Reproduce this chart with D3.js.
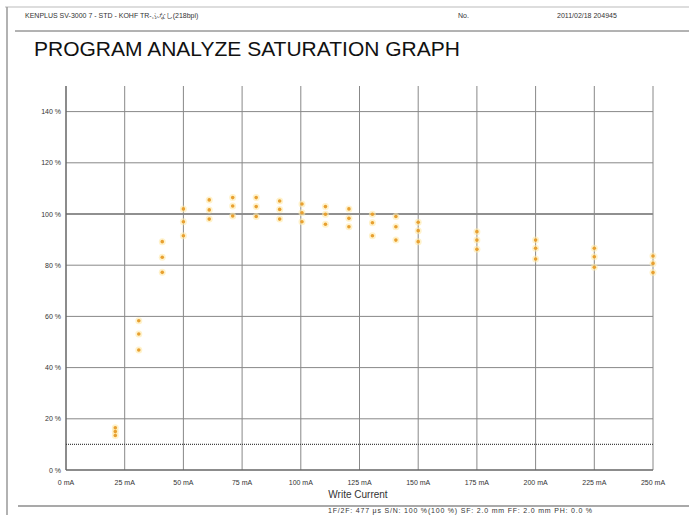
<!DOCTYPE html>
<html>
<head>
<meta charset="utf-8">
<script src="https://cdn.jsdelivr.net/npm/d3@7"></script>
<style>
  body { margin: 0; background: #fff; }
  text { font-family: "Liberation Sans", Arial, sans-serif; }
</style>
</head>
<body>
<div id="chart"></div>
<script>
const currents = [21, 31, 41, 50, 61, 71, 81, 91, 100.5, 110.5, 120.5, 130.5, 140.5, 150, 175, 200, 225, 250];
// three readings per group, percent
const highVals = [16.5, 58.3, 89.2, 102, 105.5, 106.4, 106.4, 105.1, 103.9, 102.9, 102, 99.9, 99, 96.8, 93.1, 89.8, 86.6, 83.6];
const midVals  = [15, 53.1, 83.1, 97, 101.6, 103.1, 102.9, 101.8, 100.5, 99.9, 98.3, 96.6, 95, 93.5, 89.8, 86.6, 83.3, 80.7];
const lowVals  = [13.5, 46.9, 77.2, 91.5, 98, 99.2, 99, 98, 97, 96, 95, 91.5, 89.8, 89.2, 86.2, 82.4, 79.2, 77.1];

const xTicks = [0, 25, 50, 75, 100, 125, 150, 175, 200, 225, 250];
const yTicks = [0, 20, 40, 60, 80, 100, 120, 140];
const limitLine = 10;

const W = 689, H = 515;
const margin = { top: 86, right: 36, bottom: 45, left: 66 };

const svg = d3.select("#chart").append("svg")
  .attr("width", W)
  .attr("height", H);

// page frame
svg.append("line").attr("x1", 5).attr("x2", W).attr("y1", 7).attr("y2", 7)
  .attr("stroke", "#bbb").attr("stroke-width", 1);
svg.append("line").attr("x1", 7).attr("x2", 7).attr("y1", 7).attr("y2", H)
  .attr("stroke", "#999").attr("stroke-width", 1.5);
svg.append("line").attr("x1", 15).attr("x2", W).attr("y1", 31).attr("y2", 31)
  .attr("stroke", "#666").attr("stroke-width", 1);
svg.append("line").attr("x1", 18).attr("x2", W).attr("y1", 506).attr("y2", 506)
  .attr("stroke", "#555").attr("stroke-width", 1.2);

// header
const header = svg.append("g").attr("font-size", "7px").attr("fill", "#333");
header.append("text").attr("x", 25).attr("y", 18)
  .attr("font-family", "'Noto Sans CJK JP', 'Liberation Sans', sans-serif")
  .text("KENPLUS  SV-3000  7 - STD - KOHF    TR-ふなし(218bpi)");
header.append("text").attr("x", 458).attr("y", 18).text("No.");
header.append("text").attr("x", 557).attr("y", 18).text("2011/02/18  204945");

svg.append("text")
  .attr("x", 34).attr("y", 56)
  .attr("font-size", "21px")
  .attr("fill", "#111")
  .text("PROGRAM ANALYZE SATURATION GRAPH");

const x = d3.scaleLinear().domain([0, 250]).range([margin.left, W - margin.right]);
const y = d3.scaleLinear().domain([0, 150]).range([H - margin.bottom, margin.top]);

const plot = svg.append("g");

// horizontal grid
plot.selectAll("line.hgrid")
  .data(yTicks.filter(d => d > 0))
  .enter().append("line")
  .attr("x1", x(0)).attr("x2", x(250))
  .attr("y1", d => y(d)).attr("y2", d => y(d))
  .attr("stroke", d => d === 100 ? "#222" : "#888")
  .attr("stroke-width", d => d === 100 ? 1.2 : 1);

// vertical grid
plot.selectAll("line.vgrid")
  .data(xTicks)
  .enter().append("line")
  .attr("x1", d => x(d)).attr("x2", d => x(d))
  .attr("y1", y(150)).attr("y2", y(0))
  .attr("stroke", d => d === 0 ? "#666" : "#888")
  .attr("stroke-width", d => d === 0 ? 1.5 : 1);

// bottom axis line
plot.append("line")
  .attr("x1", x(0)).attr("x2", x(250))
  .attr("y1", y(0)).attr("y2", y(0))
  .attr("stroke", "#666").attr("stroke-width", 1.5);

// limit dotted line
plot.append("line")
  .attr("x1", x(0)).attr("x2", x(250))
  .attr("y1", y(limitLine)).attr("y2", y(limitLine))
  .attr("stroke", "#444").attr("stroke-width", 1.2)
  .attr("stroke-dasharray", "1,1");

// tick labels
svg.append("g").selectAll("text")
  .data(yTicks)
  .enter().append("text")
  .attr("x", x(0) - 5)
  .attr("y", d => y(d) + 2.5)
  .attr("text-anchor", "end")
  .attr("font-size", "7px")
  .attr("fill", "#333")
  .text(d => d + " %");

svg.append("g").selectAll("text")
  .data(xTicks)
  .enter().append("text")
  .attr("x", d => x(d))
  .attr("y", 485)
  .attr("text-anchor", "middle")
  .attr("font-size", "7px")
  .attr("fill", "#333")
  .text(d => d + " mA");

svg.append("text")
  .attr("x", 358).attr("y", 498)
  .attr("text-anchor", "middle")
  .attr("font-size", "10px")
  .attr("fill", "#333")
  .text("Write Current");

svg.append("text")
  .attr("x", 328).attr("y", 513)
  .attr("font-size", "7px")
  .attr("letter-spacing", "0.8px")
  .attr("fill", "#333")
  .text("1F/2F: 477 μs   S/N: 100 %(100 %)   SF: 2.0 mm   FF: 2.0 mm   PH: 0.0 %");

// points
const points = [];
currents.forEach((c, i) => {
  [highVals[i], midVals[i], lowVals[i]].forEach(v => points.push({ c, v }));
});

plot.selectAll("circle.halo")
  .data(points)
  .enter().append("circle")
  .attr("cx", d => x(d.c)).attr("cy", d => y(d.v))
  .attr("r", 3.5)
  .attr("fill", "#ffe9a8")
  .attr("opacity", 0.6);

plot.selectAll("circle.dot")
  .data(points)
  .enter().append("circle")
  .attr("cx", d => x(d.c)).attr("cy", d => y(d.v))
  .attr("r", 1.8)
  .attr("fill", "#e8a030");
</script>
</body>
</html>
